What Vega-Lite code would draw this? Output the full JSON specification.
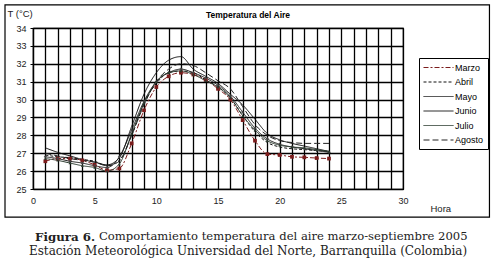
{
"$schema":"https://vega.github.io/schema/vega-lite/v6.json",
"width":370,"height":161,
"autosize":{"type":"none"},
"padding":{"left":33,"top":28,"right":92,"bottom":75},
"background":"white",
"title":{"text":"Temperatura del Aire","font":"Liberation Sans","fontSize":8.5,"fontWeight":"bold","anchor":"middle","dx":30,"offset":-15,"color":"black"},
"datasets":{"temp":[
{"m":"Marzo","h":1,"t":26.55},{"m":"Marzo","h":2,"t":26.7},{"m":"Marzo","h":3,"t":26.7},{"m":"Marzo","h":4,"t":26.6},{"m":"Marzo","h":5,"t":26.35},{"m":"Marzo","h":6,"t":26.05},{"m":"Marzo","h":7,"t":26.15},{"m":"Marzo","h":8,"t":27.55},{"m":"Marzo","h":9,"t":29.4},{"m":"Marzo","h":10,"t":30.7},{"m":"Marzo","h":11,"t":31.3},{"m":"Marzo","h":12,"t":31.5},{"m":"Marzo","h":13,"t":31.4},{"m":"Marzo","h":14,"t":31.1},{"m":"Marzo","h":15,"t":30.6},{"m":"Marzo","h":16,"t":30.0},{"m":"Marzo","h":17,"t":28.85},{"m":"Marzo","h":18,"t":27.7},{"m":"Marzo","h":19,"t":26.95},{"m":"Marzo","h":20,"t":26.9},{"m":"Marzo","h":21,"t":26.8},{"m":"Marzo","h":22,"t":26.77},{"m":"Marzo","h":23,"t":26.73},{"m":"Marzo","h":24,"t":26.7},
{"m":"Abril","h":1,"t":26.9},{"m":"Abril","h":2,"t":26.8},{"m":"Abril","h":3,"t":26.75},{"m":"Abril","h":4,"t":26.65},{"m":"Abril","h":5,"t":26.55},{"m":"Abril","h":6,"t":26.3},{"m":"Abril","h":7,"t":26.6},{"m":"Abril","h":8,"t":28.0},{"m":"Abril","h":9,"t":29.8},{"m":"Abril","h":10,"t":30.9},{"m":"Abril","h":11,"t":31.5},{"m":"Abril","h":12,"t":31.6},{"m":"Abril","h":13,"t":31.5},{"m":"Abril","h":14,"t":31.1},{"m":"Abril","h":15,"t":30.7},{"m":"Abril","h":16,"t":30.1},{"m":"Abril","h":17,"t":29.1},{"m":"Abril","h":18,"t":28.2},{"m":"Abril","h":19,"t":27.6},{"m":"Abril","h":20,"t":27.35},{"m":"Abril","h":21,"t":27.25},{"m":"Abril","h":22,"t":27.2},{"m":"Abril","h":23,"t":27.15},{"m":"Abril","h":24,"t":27.1},
{"m":"Mayo","h":1,"t":26.8},{"m":"Mayo","h":2,"t":26.7},{"m":"Mayo","h":3,"t":26.55},{"m":"Mayo","h":4,"t":26.45},{"m":"Mayo","h":5,"t":26.3},{"m":"Mayo","h":6,"t":26.2},{"m":"Mayo","h":7,"t":26.8},{"m":"Mayo","h":8,"t":28.3},{"m":"Mayo","h":9,"t":29.9},{"m":"Mayo","h":10,"t":31.0},{"m":"Mayo","h":11,"t":31.5},{"m":"Mayo","h":12,"t":31.7},{"m":"Mayo","h":13,"t":31.5},{"m":"Mayo","h":14,"t":31.2},{"m":"Mayo","h":15,"t":30.8},{"m":"Mayo","h":16,"t":30.2},{"m":"Mayo","h":17,"t":29.3},{"m":"Mayo","h":18,"t":28.4},{"m":"Mayo","h":19,"t":27.8},{"m":"Mayo","h":20,"t":27.5},{"m":"Mayo","h":21,"t":27.35},{"m":"Mayo","h":22,"t":27.25},{"m":"Mayo","h":23,"t":27.15},{"m":"Mayo","h":24,"t":27.05},
{"m":"Junio","h":1,"t":27.3},{"m":"Junio","h":2,"t":27.05},{"m":"Junio","h":3,"t":26.85},{"m":"Junio","h":4,"t":26.65},{"m":"Junio","h":5,"t":26.5},{"m":"Junio","h":6,"t":26.35},{"m":"Junio","h":7,"t":26.75},{"m":"Junio","h":8,"t":28.5},{"m":"Junio","h":9,"t":30.3},{"m":"Junio","h":10,"t":31.5},{"m":"Junio","h":11,"t":32.2},{"m":"Junio","h":12,"t":32.4},{"m":"Junio","h":13,"t":31.7},{"m":"Junio","h":14,"t":31.3},{"m":"Junio","h":15,"t":30.9},{"m":"Junio","h":16,"t":30.3},{"m":"Junio","h":17,"t":29.7},{"m":"Junio","h":18,"t":28.9},{"m":"Junio","h":19,"t":28.1},{"m":"Junio","h":20,"t":27.75},{"m":"Junio","h":21,"t":27.55},{"m":"Junio","h":22,"t":27.4},{"m":"Junio","h":23,"t":27.25},{"m":"Junio","h":24,"t":27.1},
{"m":"Julio","h":1,"t":26.7},{"m":"Julio","h":2,"t":26.6},{"m":"Julio","h":3,"t":26.45},{"m":"Julio","h":4,"t":26.3},{"m":"Julio","h":5,"t":26.2},{"m":"Julio","h":6,"t":26.0},{"m":"Julio","h":7,"t":26.4},{"m":"Julio","h":8,"t":28.1},{"m":"Julio","h":9,"t":29.8},{"m":"Julio","h":10,"t":31.0},{"m":"Julio","h":11,"t":31.5},{"m":"Julio","h":12,"t":31.6},{"m":"Julio","h":13,"t":31.4},{"m":"Julio","h":14,"t":31.05},{"m":"Julio","h":15,"t":30.7},{"m":"Julio","h":16,"t":30.1},{"m":"Julio","h":17,"t":29.1},{"m":"Julio","h":18,"t":28.3},{"m":"Julio","h":19,"t":27.7},{"m":"Julio","h":20,"t":27.45},{"m":"Julio","h":21,"t":27.35},{"m":"Julio","h":22,"t":27.3},{"m":"Julio","h":23,"t":27.2},{"m":"Julio","h":24,"t":27.1},
{"m":"Agosto","h":1,"t":27.0},{"m":"Agosto","h":2,"t":26.85},{"m":"Agosto","h":3,"t":26.7},{"m":"Agosto","h":4,"t":26.6},{"m":"Agosto","h":5,"t":26.5},{"m":"Agosto","h":6,"t":26.3},{"m":"Agosto","h":7,"t":26.55},{"m":"Agosto","h":8,"t":28.0},{"m":"Agosto","h":9,"t":29.7},{"m":"Agosto","h":10,"t":31.0},{"m":"Agosto","h":11,"t":31.7},{"m":"Agosto","h":12,"t":32.0},{"m":"Agosto","h":13,"t":31.9},{"m":"Agosto","h":14,"t":31.5},{"m":"Agosto","h":15,"t":31.05},{"m":"Agosto","h":16,"t":30.6},{"m":"Agosto","h":17,"t":29.6},{"m":"Agosto","h":18,"t":28.6},{"m":"Agosto","h":19,"t":28.0},{"m":"Agosto","h":20,"t":27.7},{"m":"Agosto","h":21,"t":27.6},{"m":"Agosto","h":22,"t":27.55},{"m":"Agosto","h":23,"t":27.55},{"m":"Agosto","h":24,"t":27.55}
]},
"layer":[
{"data":{"values":[{}]},
 "mark":{"type":"rect","fill":null,"fillOpacity":0,"stroke":"black","strokeWidth":1.2,"clip":false},
 "encoding":{
  "x":{"datum":-2.27,"type":"quantitative"},
  "x2":{"datum":37.01},
  "y":{"datum":35.29,"type":"quantitative"},
  "y2":{"datum":23.43}}},
{"data":{"name":"temp"},
 "mark":{"type":"line","interpolate":"monotone","strokeWidth":1},
 "encoding":{
  "x":{"field":"h","type":"quantitative",
   "scale":{"domain":[0,30],"nice":false,"zero":false},
   "axis":{"title":"Hora"}},
  "y":{"field":"t","type":"quantitative",
   "scale":{"domain":[25,34],"nice":false,"zero":false},
   "axis":{"title":"T (°C)"}},
  "color":{"field":"m","type":"nominal",
   "scale":{"domain":["Marzo","Abril","Mayo","Junio","Julio","Agosto"],"range":["#7b1c1c","#111111","#222222","#111111","#2a3a2e","#222222"]},
   "legend":{"title":null,"orient":"none","legendX":386,"legendY":30,"strokeColor":"black","padding":4,
    "symbolType":"M-3,0H3","symbolSize":100,"symbolStrokeWidth":1,"symbolOffset":10,"labelOffset":11,"rowPadding":3.5,
    "labelFont":"Liberation Sans","labelFontSize":9,"labelColor":"black"}},
  "strokeDash":{"field":"m","type":"nominal",
   "scale":{"domain":["Marzo","Abril","Mayo","Junio","Julio","Agosto"],"range":[[5,2,2,2],[3,2],[1,0],[1,0],[1,0],[6,3]]},
   "legend":{"title":null,"orient":"none","legendX":386,"legendY":30,"strokeColor":"black","padding":4,
    "symbolType":"M-3,0H3","symbolSize":100,"symbolStrokeWidth":1,"symbolOffset":10,"labelOffset":11,"rowPadding":3.5,
    "labelFont":"Liberation Sans","labelFontSize":9,"labelColor":"black"}}}},
{"data":{"name":"temp"},
 "transform":[{"filter":"datum.m === 'Marzo'"}],
 "mark":{"type":"point","shape":"square","filled":true,"size":14,"color":"#7b1c1c","opacity":1},
 "encoding":{"x":{"field":"h","type":"quantitative"},"y":{"field":"t","type":"quantitative"}}},
{"data":{"name":"temp"},
 "transform":[{"filter":"datum.m === 'Mayo'"}],
 "mark":{"type":"point","shape":"cross","filled":true,"size":8,"color":"#444444","opacity":1},
 "encoding":{"x":{"field":"h","type":"quantitative"},"y":{"field":"t","type":"quantitative"}}},
{"data":{"name":"temp"},
 "transform":[{"filter":"datum.m === 'Julio'"}],
 "mark":{"type":"point","shape":"triangle-up","filled":true,"size":8,"color":"#2a3a2e","opacity":1},
 "encoding":{"x":{"field":"h","type":"quantitative"},"y":{"field":"t","type":"quantitative"}}},
{"data":{"values":[{"s":"Figura 6."}]},
 "mark":{"type":"text","font":"DejaVu Serif","fontSize":11.8,"fontWeight":"bold","align":"right","baseline":"middle","color":"#222222","clip":false},
 "encoding":{"text":{"field":"s"},"x":{"datum":5.03,"type":"quantitative"},"y":{"datum":22.33,"type":"quantitative"}}},
{"data":{"values":[{"s":"Comportamiento temperatura del aire marzo-septiembre 2005"}]},
 "mark":{"type":"text","font":"DejaVu Serif","fontSize":11.6,"align":"left","baseline":"middle","color":"#222222","clip":false},
 "encoding":{"text":{"field":"s"},"x":{"datum":5.35,"type":"quantitative"},"y":{"datum":22.33,"type":"quantitative"}}},
{"data":{"values":[{"s":"Estación Meteorológica Universidad del Norte, Barranquilla (Colombia)"}]},
 "mark":{"type":"text","font":"DejaVu Serif","fontSize":12,"align":"center","baseline":"middle","color":"#222222","clip":false},
 "encoding":{"text":{"field":"s"},"x":{"datum":17.43,"type":"quantitative"},"y":{"datum":21.55,"type":"quantitative"}}}
],
"config":{
 "view":{"stroke":"black","strokeWidth":1.2},
 "axis":{"grid":true,"gridColor":"black","gridOpacity":1,"gridWidth":1.3,"domainColor":"black","domainWidth":1.2,"tickColor":"black",
  "labelFont":"Liberation Sans","labelFontSize":9,"labelColor":"#222222","titleFont":"Liberation Sans","titleColor":"#222222",
  "titleFontWeight":"normal","titleFontSize":9.5,"labelOverlap":false},
 "axisX":{"tickCount":30,"labelExpr":"datum.value % 5 === 0 ? datum.label : ''","ticks":false,"labelPadding":7,
  "titleX":397,"titleY":19,"titleAlign":"left","titleBaseline":"middle","labelFlush":false},
 "axisY":{"tickCount":9,"tickSize":3,"labelPadding":4,
  "titleAngle":0,"titleX":-26,"titleY":-15,"titleAlign":"left","titleBaseline":"middle"}
}
}
